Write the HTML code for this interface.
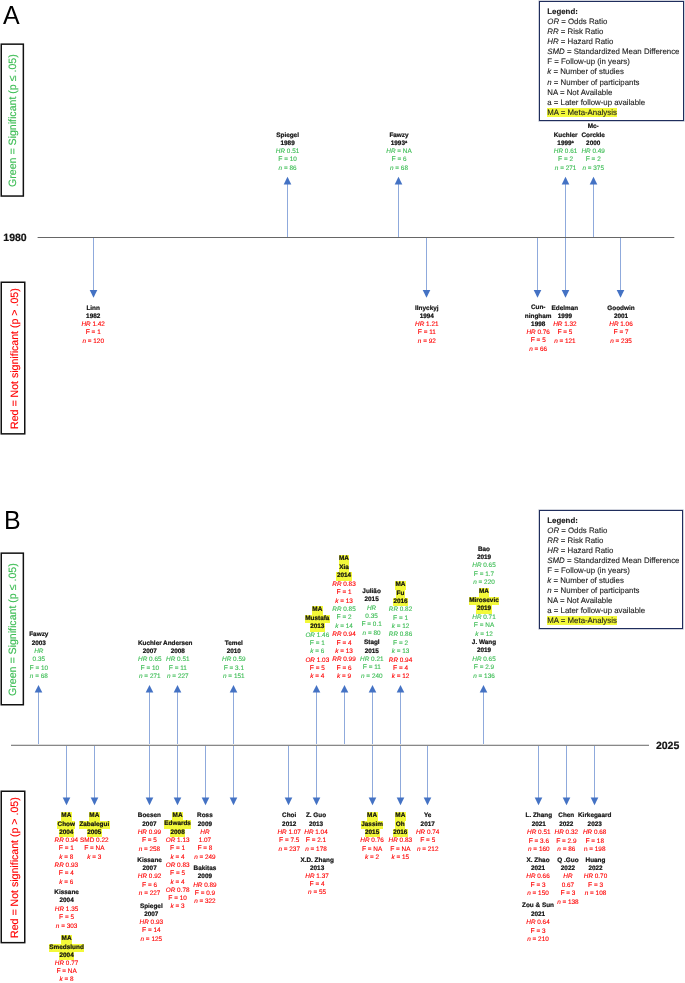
<!DOCTYPE html>
<html><head><meta charset="utf-8"><style>
*{margin:0;padding:0;box-sizing:border-box}
html,body{width:685px;height:983px;background:#fff;overflow:hidden}
#root{position:absolute;left:0;top:0;width:685px;height:983px;will-change:transform;text-rendering:geometricPrecision;font-family:"Liberation Sans",sans-serif;background:#fff}
svg{position:absolute;left:0;top:0}
.lb{position:absolute;width:80px;text-align:center;font-size:6.4px;white-space:nowrap}
.lb div{height:auto}
.ff{font-size:6.8px}
.k{font-weight:bold;color:#111;-webkit-text-stroke:0.2px #111}
.g{color:#3dbd55;-webkit-text-stroke:0.12px #3dbd55}
.r{color:#ff0000;-webkit-text-stroke:0.12px #ff0000}
.hl{background:#f3f93a;display:inline-block;padding:0 0.45px}
sup{font-size:4px;vertical-align:0;position:relative;top:-2.2px;font-weight:bold}
.leg{position:absolute;border:1px solid #1f2d5c;box-shadow:0 0 0 0.6px rgba(31,45,92,0.35)}
.legt{position:absolute;font-size:7.85px;color:#1a1a1a;white-space:nowrap;-webkit-text-stroke:0.1px #1a1a1a}
.hl2{background:#f3f93a}
.big{position:absolute;font-size:26px;line-height:30px;color:#000;transform:scaleX(0.96);transform-origin:0 0}
.yr{position:absolute;font-size:10.5px;line-height:12px;font-weight:bold;color:#111;-webkit-text-stroke:0.2px #111}
.rot{position:absolute;transform-origin:0 0;transform:rotate(-90deg);font-size:10.6px;line-height:12px;white-space:nowrap;-webkit-text-stroke:0.15px currentColor}
</style></head>
<body><div id="root">
<svg width="685" height="983" viewBox="0 0 685 983"><rect x="287" y="181.80" width="1" height="55.20" fill="#8faadc"/><path d="M283.70 184.40L287.50 176.80L291.30 184.40Z" fill="#4472c4"/><rect x="398" y="181.80" width="1" height="55.20" fill="#8faadc"/><path d="M394.70 184.40L398.50 176.80L402.30 184.40Z" fill="#4472c4"/><rect x="565" y="181.80" width="1" height="55.20" fill="#8faadc"/><path d="M561.70 184.40L565.50 176.80L569.30 184.40Z" fill="#4472c4"/><rect x="593" y="181.80" width="1" height="55.20" fill="#8faadc"/><path d="M589.70 184.40L593.50 176.80L597.30 184.40Z" fill="#4472c4"/><rect x="93" y="238.00" width="1" height="54.70" fill="#8faadc"/><path d="M89.70 290.10L93.50 297.70L97.30 290.10Z" fill="#4472c4"/><rect x="426" y="238.00" width="1" height="54.70" fill="#8faadc"/><path d="M422.70 290.10L426.50 297.70L430.30 290.10Z" fill="#4472c4"/><rect x="537" y="238.00" width="1" height="54.70" fill="#8faadc"/><path d="M533.70 290.10L537.50 297.70L541.30 290.10Z" fill="#4472c4"/><rect x="565" y="238.00" width="1" height="54.70" fill="#8faadc"/><path d="M561.70 290.10L565.50 297.70L569.30 290.10Z" fill="#4472c4"/><rect x="620" y="238.00" width="1" height="54.70" fill="#8faadc"/><path d="M616.70 290.10L620.50 297.70L624.30 290.10Z" fill="#4472c4"/><rect x="38" y="690.00" width="1" height="55.00" fill="#8faadc"/><path d="M34.70 692.60L38.50 685.00L42.30 692.60Z" fill="#4472c4"/><rect x="149" y="690.00" width="1" height="55.00" fill="#8faadc"/><path d="M145.70 692.60L149.50 685.00L153.30 692.60Z" fill="#4472c4"/><rect x="177" y="690.00" width="1" height="55.00" fill="#8faadc"/><path d="M173.70 692.60L177.50 685.00L181.30 692.60Z" fill="#4472c4"/><rect x="233" y="690.00" width="1" height="55.00" fill="#8faadc"/><path d="M229.70 692.60L233.50 685.00L237.30 692.60Z" fill="#4472c4"/><rect x="316" y="690.00" width="1" height="55.00" fill="#8faadc"/><path d="M312.70 692.60L316.50 685.00L320.30 692.60Z" fill="#4472c4"/><rect x="344" y="690.00" width="1" height="55.00" fill="#8faadc"/><path d="M340.70 692.60L344.50 685.00L348.30 692.60Z" fill="#4472c4"/><rect x="372" y="690.00" width="1" height="55.00" fill="#8faadc"/><path d="M368.70 692.60L372.50 685.00L376.30 692.60Z" fill="#4472c4"/><rect x="400" y="690.00" width="1" height="55.00" fill="#8faadc"/><path d="M396.70 692.60L400.50 685.00L404.30 692.60Z" fill="#4472c4"/><rect x="483" y="690.00" width="1" height="55.00" fill="#8faadc"/><path d="M479.70 692.60L483.50 685.00L487.30 692.60Z" fill="#4472c4"/><rect x="66" y="746.00" width="1" height="54.20" fill="#8faadc"/><path d="M62.70 797.60L66.50 805.20L70.30 797.60Z" fill="#4472c4"/><rect x="94" y="746.00" width="1" height="54.20" fill="#8faadc"/><path d="M90.70 797.60L94.50 805.20L98.30 797.60Z" fill="#4472c4"/><rect x="149" y="746.00" width="1" height="54.20" fill="#8faadc"/><path d="M145.70 797.60L149.50 805.20L153.30 797.60Z" fill="#4472c4"/><rect x="177" y="746.00" width="1" height="54.20" fill="#8faadc"/><path d="M173.70 797.60L177.50 805.20L181.30 797.60Z" fill="#4472c4"/><rect x="205" y="746.00" width="1" height="54.20" fill="#8faadc"/><path d="M201.70 797.60L205.50 805.20L209.30 797.60Z" fill="#4472c4"/><rect x="233" y="746.00" width="1" height="54.20" fill="#8faadc"/><path d="M229.70 797.60L233.50 805.20L237.30 797.60Z" fill="#4472c4"/><rect x="288" y="746.00" width="1" height="54.20" fill="#8faadc"/><path d="M284.70 797.60L288.50 805.20L292.30 797.60Z" fill="#4472c4"/><rect x="316" y="746.00" width="1" height="54.20" fill="#8faadc"/><path d="M312.70 797.60L316.50 805.20L320.30 797.60Z" fill="#4472c4"/><rect x="372" y="746.00" width="1" height="54.20" fill="#8faadc"/><path d="M368.70 797.60L372.50 805.20L376.30 797.60Z" fill="#4472c4"/><rect x="400" y="746.00" width="1" height="54.20" fill="#8faadc"/><path d="M396.70 797.60L400.50 805.20L404.30 797.60Z" fill="#4472c4"/><rect x="427" y="746.00" width="1" height="54.20" fill="#8faadc"/><path d="M423.70 797.60L427.50 805.20L431.30 797.60Z" fill="#4472c4"/><rect x="538" y="746.00" width="1" height="54.20" fill="#8faadc"/><path d="M534.70 797.60L538.50 805.20L542.30 797.60Z" fill="#4472c4"/><rect x="566" y="746.00" width="1" height="54.20" fill="#8faadc"/><path d="M562.70 797.60L566.50 805.20L570.30 797.60Z" fill="#4472c4"/><rect x="594" y="746.00" width="1" height="54.20" fill="#8faadc"/><path d="M590.70 797.60L594.50 805.20L598.30 797.60Z" fill="#4472c4"/><rect x="37.6" y="237" width="636.7" height="1" fill="#666"/><rect x="11" y="744" width="638" height="1" fill="#dcdcdc"/><rect x="11" y="745" width="638" height="1" fill="#888"/><rect x="1.25" y="44.15" width="22.10" height="151.90" fill="none" stroke="#111" stroke-width="1.5"/><rect x="1.25" y="282.25" width="23.50" height="151.60" fill="none" stroke="#111" stroke-width="1.5"/><rect x="1.25" y="553.15" width="22.10" height="151.60" fill="none" stroke="#111" stroke-width="1.5"/><rect x="1.25" y="791.25" width="23.50" height="151.40" fill="none" stroke="#111" stroke-width="1.5"/></svg>
<div class="big" style="left:3.4px;top:-0.5px">A</div>
<div class="big" style="left:3.8px;top:505.1px">B</div>
<div class="yr" style="left:3.3px;top:232.0px">1980</div>
<div class="yr" style="left:655.9px;top:740.4px">2025</div>
<div class="rot" style="left:6.90px;top:186.8px;color:#3dbd55">Green = Significant (p ≤ .05)</div>
<div class="rot" style="left:8.50px;top:428.6px;color:#ff0000">Red = Not significant (p &gt; .05)</div>
<div class="rot" style="left:6.90px;top:695.5px;color:#3dbd55">Green = Significant (p ≤ .05)</div>
<div class="rot" style="left:8.50px;top:938.3px;color:#ff0000">Red = Not significant (p &gt; .05)</div>
<div class="leg" style="left:539px;top:1px;width:145px;height:120px"></div><div class="legt" style="left:547.3px;top:7.20px;line-height:10.04px"><div class="lgl"><b>Legend:</b></div>
<div class="lgl"><i>OR</i> = Odds Ratio</div>
<div class="lgl"><i>RR</i> = Risk Ratio</div>
<div class="lgl"><i>HR</i> = Hazard Ratio</div>
<div class="lgl"><i>SMD</i> = Standardized Mean Difference</div>
<div class="lgl">F = Follow-up (in years)</div>
<div class="lgl"><i>k</i> = Number of studies</div>
<div class="lgl"><i>n</i> = Number of participants</div>
<div class="lgl">NA = Not Available</div>
<div class="lgl">a = Later follow-up available</div>
<div class="lgl"><span class="hl2">MA = Meta-Analysis</span></div></div>
<div class="leg" style="left:539px;top:510px;width:144px;height:119px"></div><div class="legt" style="left:547.3px;top:516.40px;line-height:9.99px"><div class="lgl"><b>Legend:</b></div>
<div class="lgl"><i>OR</i> = Odds Ratio</div>
<div class="lgl"><i>RR</i> = Risk Ratio</div>
<div class="lgl"><i>HR</i> = Hazard Ratio</div>
<div class="lgl"><i>SMD</i> = Standardized Mean Difference</div>
<div class="lgl">F = Follow-up (in years)</div>
<div class="lgl"><i>k</i> = Number of studies</div>
<div class="lgl"><i>n</i> = Number of participants</div>
<div class="lgl">NA = Not Available</div>
<div class="lgl">a = Later follow-up available</div>
<div class="lgl"><span class="hl2">MA = Meta-Analysis</span></div></div>
<div class="lb" style="left:247.60px;top:131.58px;line-height:8.28px">
<div class="k">Spiegel</div>
<div class="k">1989</div>
<div class="g"><i>HR</i> 0.51</div>
<div class="g"><span class="ff">F</span> = 10</div>
<div class="g"><i>n</i> = 86</div>
</div>
<div class="lb" style="left:359.00px;top:131.58px;line-height:8.28px">
<div class="k">Fawzy</div>
<div class="k">1993<sup>a</sup></div>
<div class="g"><i>HR</i> = NA</div>
<div class="g"><span class="ff">F</span> = 6</div>
<div class="g"><i>n</i> = 68</div>
</div>
<div class="lb" style="left:525.60px;top:131.58px;line-height:8.28px">
<div class="k">Kuchler</div>
<div class="k">1999<sup>a</sup></div>
<div class="g"><i>HR</i> 0.61</div>
<div class="g"><span class="ff">F</span> = 2</div>
<div class="g"><i>n</i> = 271</div>
</div>
<div class="lb" style="left:553.20px;top:123.30px;line-height:8.28px">
<div class="k">Mc-</div>
<div class="k">Corckle</div>
<div class="k">2000</div>
<div class="g"><i>HR</i> 0.49</div>
<div class="g"><span class="ff">F</span> = 2</div>
<div class="g"><i>n</i> = 375</div>
</div>
<div class="lb" style="left:53.20px;top:304.50px;line-height:8.28px">
<div class="k">Linn</div>
<div class="k">1982</div>
<div class="r"><i>HR</i> 1.42</div>
<div class="r"><span class="ff">F</span> = 1</div>
<div class="r"><i>n</i> = 120</div>
</div>
<div class="lb" style="left:386.80px;top:304.50px;line-height:8.28px">
<div class="k">Ilnyckyj</div>
<div class="k">1994</div>
<div class="r"><i>HR</i> 1.21</div>
<div class="r"><span class="ff">F</span> = 11</div>
<div class="r"><i>n</i> = 92</div>
</div>
<div class="lb" style="left:498.20px;top:304.30px;line-height:8.28px">
<div class="k">Cun-</div>
<div class="k">ningham</div>
<div class="k">1998</div>
<div class="r"><i>HR</i> 0.76</div>
<div class="r"><span class="ff">F</span> = 5</div>
<div class="r"><i>n</i> = 66</div>
</div>
<div class="lb" style="left:524.90px;top:304.50px;line-height:8.28px">
<div class="k">Edelman</div>
<div class="k">1999</div>
<div class="r"><i>HR</i> 1.32</div>
<div class="r"><span class="ff">F</span> = 5</div>
<div class="r"><i>n</i> = 121</div>
</div>
<div class="lb" style="left:581.00px;top:304.50px;line-height:8.28px">
<div class="k">Goodwin</div>
<div class="k">2001</div>
<div class="r"><i>HR</i> 1.06</div>
<div class="r"><span class="ff">F</span> = 7</div>
<div class="r"><i>n</i> = 235</div>
</div>
<div class="lb" style="left:-1.20px;top:631.40px;line-height:8.32px">
<div class="k">Fawzy</div>
<div class="k">2003</div>
<div class="g"><i>HR</i></div>
<div class="g">0.35</div>
<div class="g"><span class="ff">F</span> = 10</div>
<div class="g"><i>n</i> = 68</div>
</div>
<div class="lb" style="left:109.80px;top:639.72px;line-height:8.32px">
<div class="k">Kuchler</div>
<div class="k">2007</div>
<div class="g"><i>HR</i> 0.65</div>
<div class="g"><span class="ff">F</span> = 10</div>
<div class="g"><i>n</i> = 271</div>
</div>
<div class="lb" style="left:137.80px;top:639.72px;line-height:8.32px">
<div class="k">Andersen</div>
<div class="k">2008</div>
<div class="g"><i>HR</i> 0.51</div>
<div class="g"><span class="ff">F</span> = 11</div>
<div class="g"><i>n</i> = 227</div>
</div>
<div class="lb" style="left:193.80px;top:639.72px;line-height:8.32px">
<div class="k">Temel</div>
<div class="k">2010</div>
<div class="g"><i>HR</i> 0.59</div>
<div class="g"><span class="ff">F</span> = 3.1</div>
<div class="g"><i>n</i> = 151</div>
</div>
<div class="lb" style="left:277.30px;top:606.48px;line-height:8.34px">
<div class="k"><span class="hl">MA</span></div>
<div class="k"><span class="hl">Mustafa</span></div>
<div class="k"><span class="hl">2013</span></div>
<div class="g"><i>OR</i> 1.46</div>
<div class="g"><span class="ff">F</span> = 1</div>
<div class="g"><i>k</i> = 6</div>
<div class="r"><i>OR</i> 1.03</div>
<div class="r"><span class="ff">F</span> = 5</div>
<div class="r"><i>k</i> = 4</div>
</div>
<div class="lb" style="left:304.00px;top:555.42px;line-height:8.42px">
<div class="k"><span class="hl">MA</span></div>
<div class="k"><span class="hl">Xia</span></div>
<div class="k"><span class="hl">2014</span></div>
<div class="r"><i>RR</i> 0.83</div>
<div class="r"><span class="ff">F</span> = 1</div>
<div class="r"><i>k</i> = 13</div>
<div class="g"><i>RR</i> 0.85</div>
<div class="g"><span class="ff">F</span> = 2</div>
<div class="g"><i>k</i> = 14</div>
<div class="r"><i>RR</i> 0.94</div>
<div class="r"><span class="ff">F</span> = 4</div>
<div class="r"><i>k</i> = 13</div>
<div class="r"><i>RR</i> 0.99</div>
<div class="r"><span class="ff">F</span> = 6</div>
<div class="r"><i>k</i> = 9</div>
</div>
<div class="lb" style="left:331.60px;top:587.70px;line-height:8.42px">
<div class="k">Julião</div>
<div class="k">2015</div>
<div class="g"><i>HR</i></div>
<div class="g">0.35</div>
<div class="g"><span class="ff">F</span> = 0.1</div>
<div class="g"><i>n</i> = 80</div>
</div>
<div class="lb" style="left:331.80px;top:639.30px;line-height:8.375px">
<div class="k">Stagl</div>
<div class="k">2015</div>
<div class="g"><i>HR</i> 0.21</div>
<div class="g"><span class="ff">F</span> = 11</div>
<div class="g"><i>n</i> = 240</div>
</div>
<div class="lb" style="left:360.50px;top:581.23px;line-height:8.37px">
<div class="k"><span class="hl">MA</span></div>
<div class="k"><span class="hl">Fu</span></div>
<div class="k"><span class="hl">2016</span></div>
<div class="g"><i>RR</i> 0.82</div>
<div class="g"><span class="ff">F</span> = 1</div>
<div class="g"><i>k</i> = 12</div>
<div class="g"><i>RR</i> 0.86</div>
<div class="g"><span class="ff">F</span> = 2</div>
<div class="g"><i>k</i> = 13</div>
<div class="r"><i>RR</i> 0.94</div>
<div class="r"><span class="ff">F</span> = 4</div>
<div class="r"><i>k</i> = 12</div>
</div>
<div class="lb" style="left:444.00px;top:545.90px;line-height:8.25px">
<div class="k">Bao</div>
<div class="k">2019</div>
<div class="g"><i>HR</i> 0.65</div>
<div class="g"><span class="ff">F</span> = 1.7</div>
<div class="g"><i>n</i> = 220</div>
</div>
<div class="lb" style="left:444.00px;top:588.40px;line-height:8.44px">
<div class="k"><span class="hl">MA</span></div>
<div class="k"><span class="hl">Mirosevic</span></div>
<div class="k"><span class="hl">2019</span></div>
<div class="g"><i>HR</i> 0.71</div>
<div class="g"><span class="ff">F</span> = NA</div>
<div class="g"><i>k</i> = 12</div>
</div>
<div class="lb" style="left:444.00px;top:638.88px;line-height:8.43px">
<div class="k">J. Wang</div>
<div class="k">2019</div>
<div class="g"><i>HR</i> 0.65</div>
<div class="g"><span class="ff">F</span> = 2.9</div>
<div class="g"><i>n</i> = 136</div>
</div>
<div class="lb" style="left:26.30px;top:812.20px;line-height:8.31px">
<div class="k"><span class="hl">MA</span></div>
<div class="k"><span class="hl">Chow</span></div>
<div class="k"><span class="hl">2004</span></div>
<div class="r"><i>RR</i> 0.94</div>
<div class="r"><span class="ff">F</span> = 1</div>
<div class="r"><i>k</i> = 8</div>
<div class="r"><i>RR</i> 0.93</div>
<div class="r"><span class="ff">F</span> = 4</div>
<div class="r"><i>k</i> = 6</div>
</div>
<div class="lb" style="left:26.60px;top:889.00px;line-height:8.37px">
<div class="k">Kissane</div>
<div class="k">2004</div>
<div class="r"><i>HR</i> 1.35</div>
<div class="r"><span class="ff">F</span> = 5</div>
<div class="r"><i>n</i> = 303</div>
</div>
<div class="lb" style="left:26.60px;top:935.30px;line-height:8.22px">
<div class="k"><span class="hl">MA</span></div>
<div class="k"><span class="hl">Smedslund</span></div>
<div class="k"><span class="hl">2004</span></div>
<div class="r"><i>HR</i> 0.77</div>
<div class="r"><span class="ff">F</span> = NA</div>
<div class="r"><i>k</i> = 8</div>
</div>
<div class="lb" style="left:54.30px;top:812.20px;line-height:8.31px">
<div class="k"><span class="hl">MA</span></div>
<div class="k"><span class="hl">Zabalegui</span></div>
<div class="k"><span class="hl">2005</span></div>
<div class="r">SMD 0.22</div>
<div class="r"><span class="ff">F</span> = NA</div>
<div class="r"><i>k</i> = 3</div>
</div>
<div class="lb" style="left:109.40px;top:812.20px;line-height:8.33px">
<div class="k">Boesen</div>
<div class="k">2007</div>
<div class="r"><i>HR</i> 0.99</div>
<div class="r"><span class="ff">F</span> = 5</div>
<div class="r"><i>n</i> = 258</div>
</div>
<div class="lb" style="left:109.60px;top:856.60px;line-height:8.33px">
<div class="k">Kissane</div>
<div class="k">2007</div>
<div class="r"><i>HR</i> 0.92</div>
<div class="r"><span class="ff">F</span> = 6</div>
<div class="r"><i>n</i> = 227</div>
</div>
<div class="lb" style="left:111.30px;top:902.70px;line-height:8.25px">
<div class="k">Spiegel</div>
<div class="k">2007</div>
<div class="r"><i>HR</i> 0.93</div>
<div class="r"><span class="ff">F</span> = 14</div>
<div class="r"><i>n</i> = 125</div>
</div>
<div class="lb" style="left:137.60px;top:812.20px;line-height:8.3px">
<div class="k"><span class="hl">MA</span></div>
<div class="k"><span class="hl">Edwards</span></div>
<div class="k"><span class="hl">2008</span></div>
<div class="r"><i>OR</i> 1.13</div>
<div class="r"><span class="ff">F</span> = 1</div>
<div class="r"><i>k</i> = 4</div>
<div class="r"><i>OR</i> 0.83</div>
<div class="r"><span class="ff">F</span> = 5</div>
<div class="r"><i>k</i> = 4</div>
<div class="r"><i>OR</i> 0.78</div>
<div class="r"><span class="ff">F</span> = 10</div>
<div class="r"><i>k</i> = 3</div>
</div>
<div class="lb" style="left:164.90px;top:812.20px;line-height:8.32px">
<div class="k">Ross</div>
<div class="k">2009</div>
<div class="r"><i>HR</i></div>
<div class="r">1.07</div>
<div class="r"><span class="ff">F</span> = 8</div>
<div class="r"><i>n</i> = 249</div>
</div>
<div class="lb" style="left:164.90px;top:864.90px;line-height:8.32px">
<div class="k">Bakitas</div>
<div class="k">2009</div>
<div class="r"><i>HR</i> 0.89</div>
<div class="r"><span class="ff">F</span> = 0.9</div>
<div class="r"><i>n</i> = 322</div>
</div>
<div class="lb" style="left:249.20px;top:812.20px;line-height:8.4px">
<div class="k">Choi</div>
<div class="k">2012</div>
<div class="r"><i>HR</i> 1.07</div>
<div class="r"><span class="ff">F</span> = 7.5</div>
<div class="r"><i>n</i> = 237</div>
</div>
<div class="lb" style="left:276.00px;top:812.20px;line-height:8.4px">
<div class="k">Z. Guo</div>
<div class="k">2013</div>
<div class="r"><i>HR</i> 1.04</div>
<div class="r"><span class="ff">F</span> = 2.1</div>
<div class="r"><i>n</i> = 178</div>
</div>
<div class="lb" style="left:277.10px;top:856.50px;line-height:8.2px">
<div class="k">X.D. Zhang</div>
<div class="k">2013</div>
<div class="r"><i>HR</i> 1.37</div>
<div class="r"><span class="ff">F</span> = 4</div>
<div class="r"><i>n</i> = 55</div>
</div>
<div class="lb" style="left:332.10px;top:812.20px;line-height:8.33px">
<div class="k"><span class="hl">MA</span></div>
<div class="k"><span class="hl">Jassim</span></div>
<div class="k"><span class="hl">2015</span></div>
<div class="r"><i>HR</i> 0.76</div>
<div class="r"><span class="ff">F</span> = NA</div>
<div class="r"><i>k</i> = 2</div>
</div>
<div class="lb" style="left:360.30px;top:812.20px;line-height:8.33px">
<div class="k"><span class="hl">MA</span></div>
<div class="k"><span class="hl">Oh</span></div>
<div class="k"><span class="hl">2016</span></div>
<div class="r"><i>HR</i> 0.83</div>
<div class="r"><span class="ff">F</span> = NA</div>
<div class="r"><i>k</i> = 15</div>
</div>
<div class="lb" style="left:387.70px;top:812.20px;line-height:8.33px">
<div class="k">Ye</div>
<div class="k">2017</div>
<div class="r"><i>HR</i> 0.74</div>
<div class="r"><span class="ff">F</span> = 5</div>
<div class="r"><i>n</i> = 212</div>
</div>
<div class="lb" style="left:498.80px;top:812.40px;line-height:8.375px">
<div class="k">L. Zhang</div>
<div class="k">2021</div>
<div class="r"><i>HR</i> 0.51</div>
<div class="r"><span class="ff">F</span> = 3.6</div>
<div class="r"><i>n</i> = 160</div>
</div>
<div class="lb" style="left:498.00px;top:856.80px;line-height:8.33px">
<div class="k">X. Zhao</div>
<div class="k">2021</div>
<div class="r"><i>HR</i> 0.66</div>
<div class="r"><span class="ff">F</span> = 3</div>
<div class="r"><i>n</i> = 150</div>
</div>
<div class="lb" style="left:498.00px;top:902.30px;line-height:8.45px">
<div class="k">Zou &amp; Sun</div>
<div class="k">2021</div>
<div class="r"><i>HR</i> 0.64</div>
<div class="r"><span class="ff">F</span> = 3</div>
<div class="r"><i>n</i> = 210</div>
</div>
<div class="lb" style="left:526.30px;top:812.40px;line-height:8.375px">
<div class="k">Chen</div>
<div class="k">2022</div>
<div class="r"><i>HR</i> 0.32</div>
<div class="r"><span class="ff">F</span> = 2.9</div>
<div class="r"><i>n</i> = 86</div>
</div>
<div class="lb" style="left:527.90px;top:856.80px;line-height:8.34px">
<div class="k">Q .Guo</div>
<div class="k">2022</div>
<div class="r"><i>HR</i></div>
<div class="r">0.67</div>
<div class="r"><span class="ff">F</span> = 3</div>
<div class="r"><i>n</i> = 138</div>
</div>
<div class="lb" style="left:554.70px;top:812.40px;line-height:8.375px">
<div class="k">Kirkegaard</div>
<div class="k">2023</div>
<div class="r"><i>HR</i> 0.68</div>
<div class="r"><span class="ff">F</span> = 18</div>
<div class="r">n = 198</div>
</div>
<div class="lb" style="left:555.50px;top:856.80px;line-height:8.33px">
<div class="k">Huang</div>
<div class="k">2022</div>
<div class="r"><i>HR</i> 0.70</div>
<div class="r"><span class="ff">F</span> = 3</div>
<div class="r"><i>n</i> = 108</div>
</div>
</div></body></html>
